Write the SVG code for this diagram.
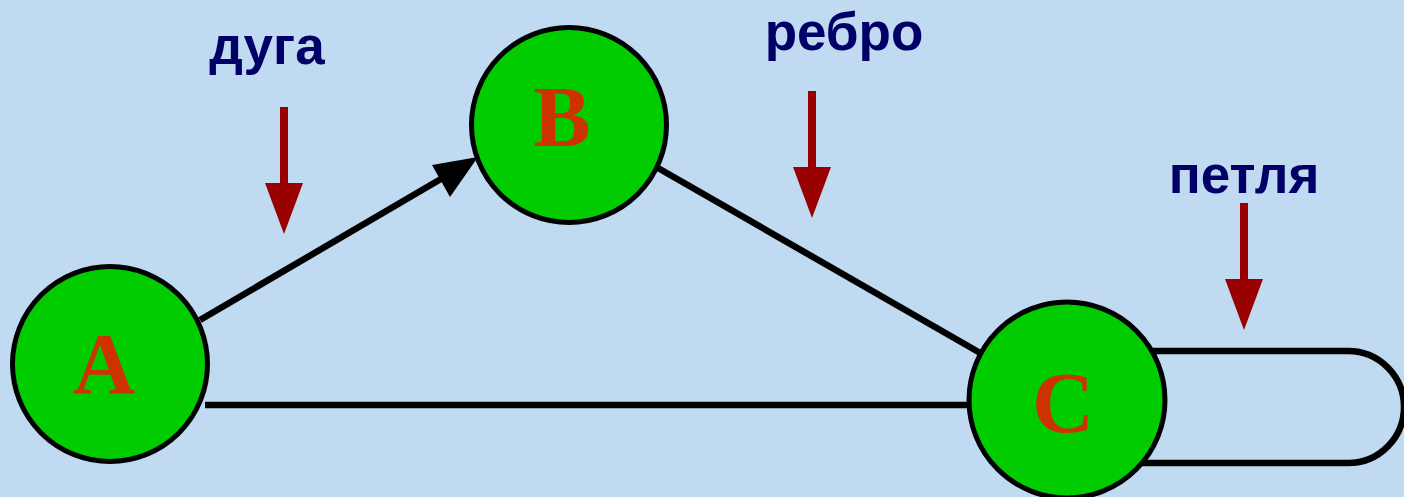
<svg xmlns="http://www.w3.org/2000/svg" width="1404" height="497" viewBox="0 0 1404 497">
<style>
.edge{stroke:#000;stroke-width:6.5;fill:none}
.node{fill:#00CC00;stroke:#000;stroke-width:5}
.nl{font-family:"Liberation Serif",serif;font-weight:bold;font-size:86px;fill:#CC3300;text-anchor:middle}
.lbl{font-family:"Liberation Sans",Arial,sans-serif;font-weight:bold;font-size:53px;fill:#000066;text-anchor:middle}
.ptr{stroke:#990000;stroke-width:8}
.ph{fill:#990000}
</style>
<rect width="1404" height="497" fill="#C0DAF2"/>
<g id="connectors">
<line class="edge" x1="200" y1="320" x2="446" y2="176"/>
<polygon points="478,157 432,165 450,197" fill="#000"/>
<line class="edge" x1="658" y1="168" x2="982" y2="354"/>
<line class="edge" x1="205" y1="405" x2="972" y2="405"/>
<path class="edge" d="M1140 351 H1348 A56 56 0 0 1 1348 463 H1140"/>
</g>
<g id="A"><circle class="node" cx="110" cy="364" r="97.5"/><text class="nl" x="104" y="393">A</text></g>
<g id="B"><circle class="node" cx="569" cy="125" r="97.5"/><text class="nl" x="562" y="146">B</text></g>
<g id="C"><circle class="node" cx="1067" cy="400" r="98"/><text class="nl" x="1063" y="432">C</text></g>
<g id="label-duga"><text class="lbl" x="267" y="64">дуга</text>
<line class="ptr" x1="284" y1="107" x2="284" y2="186"/><polygon class="ph" points="265,183 303,183 284,234"/></g>
<g id="label-rebro"><text class="lbl" x="844" y="50">ребро</text>
<line class="ptr" x1="812" y1="91" x2="812" y2="170"/><polygon class="ph" points="793,167 831,167 812,218"/></g>
<g id="label-petlya"><text class="lbl" x="1244" y="193">петля</text>
<line class="ptr" x1="1244" y1="203" x2="1244" y2="282"/><polygon class="ph" points="1225,279 1263,279 1244,330"/></g>
</svg>
